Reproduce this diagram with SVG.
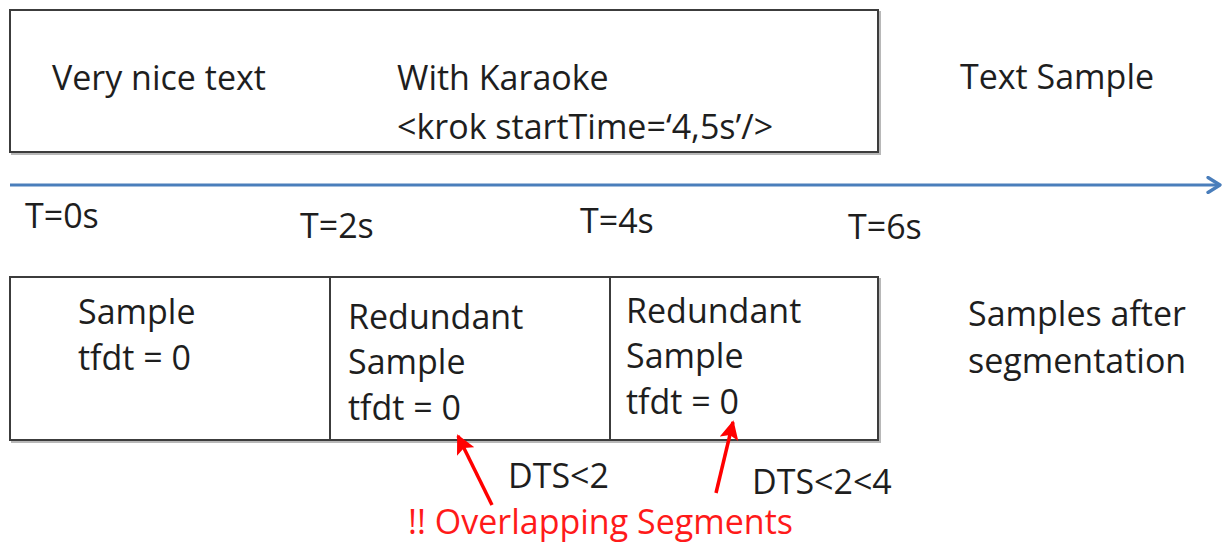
<svg xmlns="http://www.w3.org/2000/svg" width="1224" height="542" viewBox="0 0 1224 542">
  <defs>
    <style>
      .box { fill: #ffffff; stroke: #3c3c3c; stroke-width: 2; }
      .shadow { fill: none; stroke: #b8b8b8; stroke-width: 2; }
      .lbl { font-family: "Open Sans", Lato, sans-serif; font-size: 34px; fill: #1e1e1e; }
      .warn { font-family: "Open Sans", Lato, sans-serif; font-size: 34px; fill: #ff1a1a; }
      .axis { stroke: #4a7ebb; stroke-width: 3; fill: none; }
      .red { stroke: #ff0000; stroke-width: 3.5; fill: none; }
    </style>
    <marker id="axisHead" viewBox="0 0 12 12" refX="10" refY="6" markerWidth="6" markerHeight="6" markerUnits="strokeWidth" orient="auto">
      <path d="M2,1 L10,6 L2,11" fill="none" stroke="#4a7ebb" stroke-width="2.2" stroke-linecap="round" stroke-linejoin="round"/>
    </marker>
    <marker id="redHead" viewBox="0 0 10 10" refX="9" refY="5" markerWidth="5.5" markerHeight="5.5" markerUnits="strokeWidth" orient="auto">
      <path d="M0,0 L10,5 L0,10 L2,5 Z" fill="#ff0000"/>
    </marker>
  </defs>

  <!-- text sample with karaoke -->
  <g id="text-sample">
    <rect class="shadow" x="12" y="12" width="868" height="142"/>
    <rect class="box" x="10" y="10" width="868" height="142"/>
    <text class="lbl" x="52" y="90">Very nice text</text>
    <text class="lbl" x="397" y="90">With Karaoke</text>
    <text class="lbl" x="397" y="139">&lt;krok startTime=‘4,5s’/&gt;</text>
  </g>
  <text id="text-sample-caption" class="lbl" x="960" y="89">Text Sample</text>

  <g id="ticks">
    <text class="lbl" x="25" y="228">T=0s</text>
    <text class="lbl" x="300" y="238">T=2s</text>
    <text class="lbl" x="580" y="233">T=4s</text>
    <text class="lbl" x="848" y="239">T=6s</text>
  </g>

  <!-- segmented samples -->
  <g id="segment-1">
    <rect class="shadow" x="12" y="279" width="320" height="163"/>
    <rect class="box" x="10" y="277" width="320" height="163"/>
    <text class="lbl" x="78" y="324">Sample</text>
    <text class="lbl" x="78" y="370">tfdt = 0</text>
  </g>
  <g id="segment-2">
    <rect class="shadow" x="332" y="279" width="280" height="163"/>
    <rect class="box" x="330" y="277" width="280" height="163"/>
    <text class="lbl" x="348" y="329">Redundant</text>
    <text class="lbl" x="348" y="374">Sample</text>
    <text class="lbl" x="348" y="420">tfdt = 0</text>
  </g>
  <g id="segment-3">
    <rect class="shadow" x="612" y="279" width="268" height="163"/>
    <rect class="box" x="610" y="277" width="268" height="163"/>
    <text class="lbl" x="626" y="323">Redundant</text>
    <text class="lbl" x="626" y="368">Sample</text>
    <text class="lbl" x="626" y="414">tfdt = 0</text>
  </g>
  <g id="segments-caption">
    <text class="lbl" x="968" y="326">Samples after</text>
    <text class="lbl" x="968" y="373">segmentation</text>
  </g>

  <!-- time axis and pointer arrows -->
  <g id="connectors">
    <line class="axis" x1="10" y1="185" x2="1220" y2="185" marker-end="url(#axisHead)"/>
    <line class="red" x1="492" y1="505" x2="458" y2="436" marker-end="url(#redHead)"/>
    <line class="red" x1="716" y1="493" x2="733" y2="422" marker-end="url(#redHead)"/>
  </g>

  <!-- annotations -->
  <g id="annotations">
    <text class="lbl" x="508" y="488">DTS&lt;2</text>
    <text class="lbl" x="752" y="494">DTS&lt;2&lt;4</text>
    <text class="warn" x="408" y="534">!! Overlapping Segments</text>
  </g>
</svg>
